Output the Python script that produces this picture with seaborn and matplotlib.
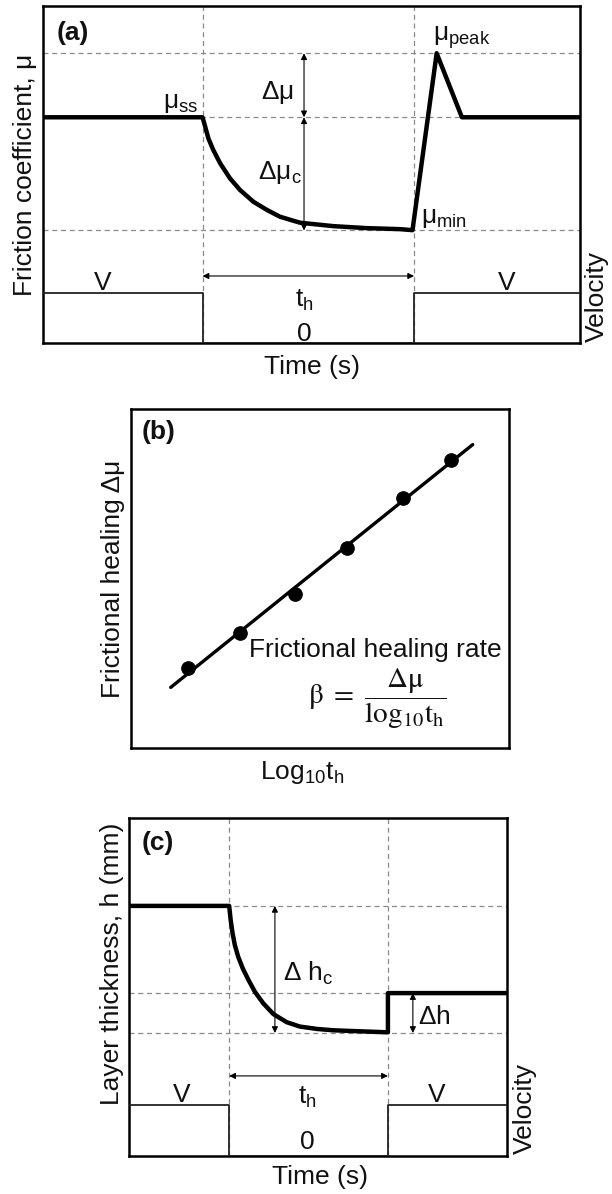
import numpy as np
import pandas as pd
import matplotlib
matplotlib.use("Agg")
import matplotlib.pyplot as plt
import seaborn as sns

sns.set_theme(style="white")
plt.rcParams["font.family"] = ["Liberation Sans", "DejaVu Sans"]
plt.rcParams["mathtext.fontset"] = "custom"
plt.rcParams["mathtext.rm"] = "Liberation Sans"
plt.rcParams["mathtext.it"] = "Liberation Sans"
plt.rcParams["mathtext.bf"] = "Liberation Sans:bold"
plt.rcParams["text.color"] = "#111111"

# ---------------- data (schematic units) ----------------
# (a) friction coefficient vs time
friction_t = [0, 29.7, 30.2, 30.8, 31.7, 33.0, 34.8, 36.7, 39.2, 41.7, 44.1, 46.6,
              47.9, 54.0, 60.3, 66.5, 68.8, 73.3, 78.0, 100]
friction_mu = [67, 67, 64.2, 60.7, 57.3, 53.3, 48.9, 45.4, 41.9, 39.5, 37.5, 36.3,
               35.7, 34.7, 34.1, 33.8, 33.5, 86, 67, 67]
mu_peak, mu_ss, mu_min = 86, 67, 33.4
hold_start_a, hold_end_a = 29.7, 69.1
velocity_t_a = [0, hold_start_a, hold_start_a, hold_end_a, hold_end_a, 100]
velocity_a = [14.8, 14.8, 0, 0, 14.8, 14.8]

# (b) frictional healing vs log10 hold time
log_th = [1.52, 2.88, 4.34, 5.72, 7.19, 8.46]
healing = [2.37, 3.40, 4.53, 5.91, 7.37, 8.50]
fit_range = [1.05, 9.04]

# (c) layer thickness vs time
thick_t = [0, 26.5, 26.9, 27.4, 28.0, 28.9, 30.1, 31.6, 33.3, 35.5, 38.2, 41.7,
           45.2, 49.7, 54.0, 61.1, 68.5, 68.5, 100]
thick_h = [74, 74, 69.8, 65.9, 62.4, 58.9, 55.5, 52.1, 48.6, 45.2, 42.0, 39.6,
           38.3, 37.6, 37.2, 36.9, 36.6, 48.2, 48.2]
h_top, h_mid, h_min = 74, 48.2, 36.4
hold_start_c, hold_end_c = 26.5, 68.5
velocity_t_c = [0, hold_start_c, hold_start_c, hold_end_c, hold_end_c, 100]
velocity_c = [15.1, 15.1, 0, 0, 15.1, 15.1]

FS = 19
DASH = dict(color="#8a8a8a", lw=0.9, ls=(0, (4, 3)), zorder=1)
ARROW = dict(arrowstyle="<|-|>", lw=0.8, color="black", mutation_scale=9,
             shrinkA=0, shrinkB=0)

fig = plt.figure(figsize=(6.12, 11.94), dpi=100)


def style_box(ax):
    ax.set_xlim(0, 100)
    ax.set_ylim(0, 100)
    ax.set_xticks([])
    ax.set_yticks([])
    ax.set_xlabel("")
    ax.set_ylabel("")
    for s in ax.spines.values():
        s.set_visible(True)
        s.set_color("black")
        s.set_linewidth(1.8)
    ax.set_facecolor("white")


def axis_text(ax, x, y, s, rot=0):
    ax.text(x, y, s, rotation=rot, fontsize=FS, ha="center", va="center",
            transform=ax.transAxes)


# ---------------- panel (a) ----------------
axa = fig.add_axes([0.0703, 0.7127, 0.8775, 0.2822])
for yv in (mu_peak, mu_ss, mu_min):
    axa.axhline(yv, **DASH)
for xv in (hold_start_a, hold_end_a):
    axa.axvline(xv, **DASH)
sns.lineplot(x=friction_t, y=friction_mu, sort=False, estimator=None, ax=axa,
             color="black", lw=3.2, zorder=4)
sns.lineplot(x=velocity_t_a, y=velocity_a, sort=False, estimator=None, ax=axa,
             color="#222222", lw=1.3, zorder=3)
style_box(axa)
axa.annotate("", xy=(48.6, mu_peak), xytext=(48.6, mu_ss), arrowprops=ARROW)
axa.annotate("", xy=(48.6, mu_ss), xytext=(48.6, mu_min), arrowprops=ARROW)
axa.annotate("", xy=(hold_start_a, 19.9), xytext=(hold_end_a, 19.9), arrowprops=ARROW)
axa.text(2.6, 92, "(a)", fontsize=FS, fontweight="bold", ha="left", va="center")
axa.text(28.9, 71.2, r"$\mathrm{\mu_{ss}}$", fontsize=FS, ha="right", va="center")
axa.text(43.6, 74.5, r"$\mathrm{\Delta\mu}$", fontsize=FS, ha="center", va="center")
axa.text(44.1, 50.7, r"$\mathrm{\Delta\mu_c}$", fontsize=FS, ha="center", va="center")
axa.text(72.6, 90.5, r"$\mathrm{\mu_{peak}}$", fontsize=FS, ha="left", va="center")
axa.text(70.4, 37.1, r"$\mathrm{\mu_{min}}$", fontsize=FS, ha="left", va="center")
axa.text(11.2, 17.8, "V", fontsize=FS, ha="center", va="center")
axa.text(86.4, 17.8, "V", fontsize=FS, ha="center", va="center")
axa.text(48.6, 12.8, r"$\mathrm{t_h}$", fontsize=FS, ha="center", va="center")
axa.text(48.6, 2.8, "0", fontsize=FS, ha="center", va="center")
axis_text(axa, -0.0335, 0.5, "Friction coefficient, μ", rot=90)
axis_text(axa, 0.5, -0.071, "Time (s)")
axis_text(axa, 1.032, 0.139, "Velocity", rot=90)

# ---------------- panel (b) ----------------
axb = fig.add_axes([0.2141, 0.3735, 0.6176, 0.2839])
coef = np.polyfit(log_th, healing, 1)
fit_x = np.array(fit_range)
fit_y = np.polyval(coef, fit_x)
sns.lineplot(x=fit_x, y=fit_y, ax=axb, color="black", lw=2.4, zorder=3)
sns.scatterplot(x=log_th, y=healing, ax=axb, color="black", s=95,
                edgecolor="black", zorder=4)
style_box(axb)
axb.set_xlim(0, 10)
axb.set_ylim(0, 10)
axb.text(0.28, 9.33, "(b)", fontsize=FS, fontweight="bold", ha="left", va="center")
axb.text(6.47, 2.89, "Frictional healing rate", fontsize=FS, ha="center", va="center")
axb.text(6.5, 1.45,
         r"$\mathrm{\beta}\ =\ \dfrac{\mathrm{\Delta\mu}}{\mathrm{log_{10}t_h}}$",
         fontsize=21, ha="center", va="center", math_fontfamily="stix")
axis_text(axb, -0.048, 0.5, "Frictional healing Δμ", rot=90)
axis_text(axb, 0.452, -0.071, r"$\mathrm{Log_{10}t_h}$")

# ---------------- panel (c) ----------------
axc = fig.add_axes([0.2108, 0.0318, 0.6176, 0.2831])
for yv in (h_top, h_mid, h_min):
    axc.axhline(yv, **DASH)
for xv in (hold_start_c, hold_end_c):
    axc.axvline(xv, **DASH)
sns.lineplot(x=thick_t, y=thick_h, sort=False, estimator=None, ax=axc,
             color="black", lw=3.2, zorder=4)
sns.lineplot(x=velocity_t_c, y=velocity_c, sort=False, estimator=None, ax=axc,
             color="#222222", lw=1.3, zorder=3)
style_box(axc)
axc.annotate("", xy=(38.6, h_top), xytext=(38.6, h_min), arrowprops=ARROW)
axc.annotate("", xy=(75.1, h_mid), xytext=(75.1, h_min), arrowprops=ARROW)
axc.annotate("", xy=(hold_start_c, 23.7), xytext=(hold_end_c, 23.7), arrowprops=ARROW)
axc.text(3.4, 92.6, "(c)", fontsize=FS, fontweight="bold", ha="left", va="center")
axc.text(40.7, 54.1, r"$\mathrm{\Delta\ h_c}$", fontsize=FS, ha="left", va="center")
axc.text(76.5, 41.1, r"$\mathrm{\Delta h}$", fontsize=FS, ha="left", va="center")
axc.text(14.0, 18.0, "V", fontsize=FS, ha="center", va="center")
axc.text(81.5, 18.0, "V", fontsize=FS, ha="center", va="center")
axc.text(47.1, 17.2, r"$\mathrm{t_h}$", fontsize=FS, ha="center", va="center")
axc.text(47.1, 4.1, "0", fontsize=FS, ha="center", va="center")
axis_text(axc, -0.045, 0.568, "Layer thickness, h (mm)", rot=90)
axis_text(axc, 0.505, -0.062, "Time (s)")
axis_text(axc, 1.048, 0.142, "Velocity", rot=90)

fig.savefig("out.png", dpi=100, facecolor="white")
